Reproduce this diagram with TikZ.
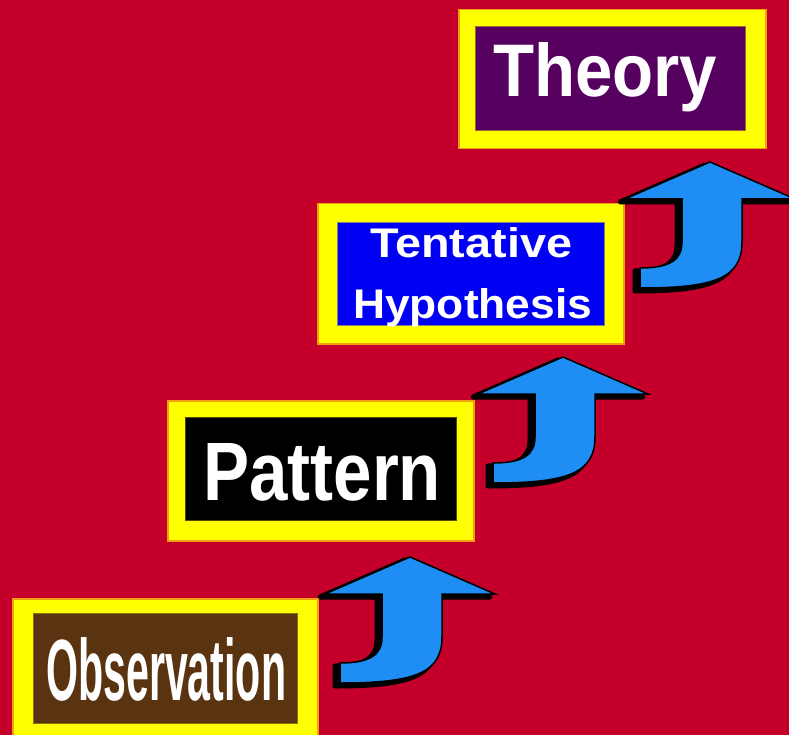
\documentclass[tikz,border=0pt]{standalone}
\usepackage{fontspec}
\setmainfont{Liberation Sans}
\usepackage{graphicx}
\definecolor{bg}{HTML}{C4002A}
\definecolor{ylw}{HTML}{FFFF00}
\definecolor{ylwedge}{HTML}{F0A010}
\definecolor{obsbrown}{HTML}{5A3410}
\definecolor{hypblue}{HTML}{0000F2}
\definecolor{thpurple}{HTML}{560060}
\definecolor{arrblue}{HTML}{1E8EF5}
\tikzset{
  outerbox/.style={draw=ylwedge, line width=1.5pt, fill=ylw, inner sep=0pt, anchor=north west},
  innerbox/.style={inner sep=0pt, anchor=north west, line width=1.2pt},
  lbl/.style={inner sep=0pt, anchor=base west, text=white, font=\bfseries},
  bentarrow/.pic={
    \begin{scope}[shift={(-5,3)}]
      \filldraw[fill=black, draw=black, line width=5pt, line join=round] (0,0) -- (85,37) -- (32,37) -- (32,80) .. controls (32,116) and (5,126) .. (-70,126) -- (-70,106) .. controls (-40,106) and (-28,98) .. (-28,80) -- (-28,37) -- (-85,37) -- cycle;
    \end{scope}
    \filldraw[fill=arrblue, draw=black, line width=1.5pt, line join=miter] (0,0) -- (85,37) -- (32,37) -- (32,80) .. controls (32,116) and (5,126) .. (-70,126) -- (-70,106) .. controls (-40,106) and (-28,98) .. (-28,80) -- (-28,37) -- (-85,37) -- cycle;
  }
}
\begin{document}
\begin{tikzpicture}[x=1pt,y=-1pt]
\useasboundingbox (0,0) rectangle (789,735);
\clip (0,0) rectangle (789,735);
\fill[bg] (0,0) rectangle (789,735);

% Observation
\node[outerbox, minimum width=305pt, minimum height=150pt] (obs-o) at (12,598) {};
\node[innerbox, fill=obsbrown, draw=obsbrown!70!ylw, minimum width=264pt, minimum height=110pt] (obs) at (33,613) {};
\node[lbl] (obs-t) at (46,700) {\resizebox{240pt}{63pt}{Observation}};

% Pattern
\node[outerbox, minimum width=306pt, minimum height=140pt] (pat-o) at (167,400) {};
\node[innerbox, fill=black, draw=black!70!ylw, minimum width=271pt, minimum height=103pt] (pat) at (185,417) {};
\node[lbl] (pat-t) at (203,500) {\resizebox{238pt}{57pt}{Pattern}};

% Tentative Hypothesis
\node[outerbox, minimum width=306pt, minimum height=140pt] (hyp-o) at (317,203) {};
\node[innerbox, fill=hypblue, draw=gray, minimum width=267pt, minimum height=103pt] (hyp) at (337,222) {};
\node[lbl] (hyp-t1) at (370,258) {\resizebox{202pt}{30pt}{Tentative}};
\node[lbl] (hyp-t2) at (353,318) {\resizebox{239pt}{30pt}{Hypothesis}};

% Theory
\node[outerbox, minimum width=307pt, minimum height=139pt] (th-o) at (458,9) {};
\node[innerbox, fill=thpurple, draw=thpurple!60!ylw, minimum width=270pt, minimum height=104pt] (th) at (475,26) {};
\node[lbl] (th-t) at (493,97) {\resizebox{224pt}{54pt}{Theory}};

% bent arrows
\coordinate (a1) at (410,557);
\coordinate (a2) at (563,357);
\coordinate (a3) at (710,162);
\pic at (a1) {bentarrow};
\pic at (a2) {bentarrow};
\pic at (a3) {bentarrow};
\end{tikzpicture}
\end{document}
